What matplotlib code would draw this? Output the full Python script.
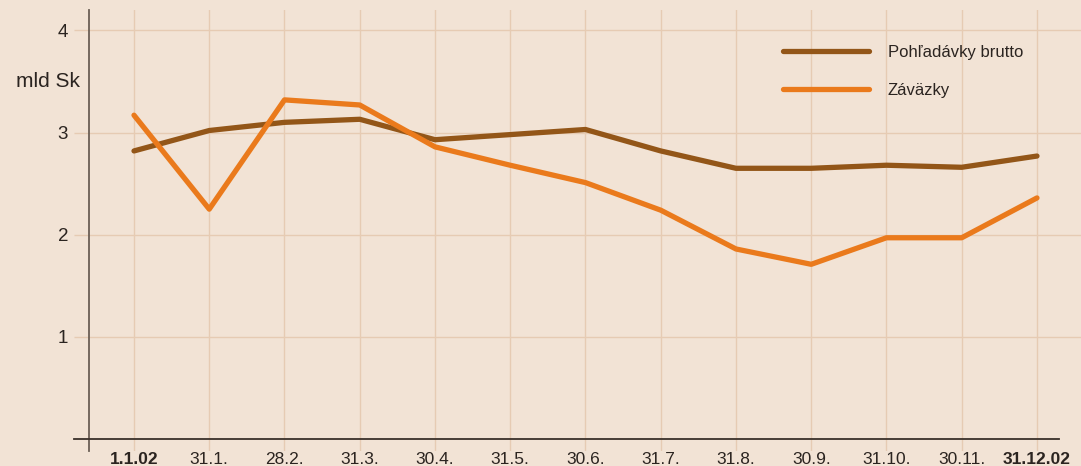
import matplotlib
matplotlib.use("Agg")
import matplotlib.pyplot as plt

# data (mld Sk)
dates = ["1.1.02", "31.1.", "28.2.", "31.3.", "30.4.", "31.5.", "30.6.",
         "31.7.", "31.8.", "30.9.", "31.10.", "30.11.", "31.12.02"]
pohladavky = [2.82, 3.02, 3.10, 3.13, 2.93, 2.98, 3.03, 2.82, 2.65, 2.65, 2.68, 2.66, 2.77]
zavazky = [3.17, 2.25, 3.32, 3.27, 2.86, 2.68, 2.51, 2.24, 1.86, 1.71, 1.97, 1.97, 2.36]
y_ticks = [1, 2, 3, 4]

bg = "#f2e3d5"
grid_c = "#e6cbb3"
brown = "#935618"
orange = "#ea7a1c"
text_c = "#2b2420"

plt.rcParams['font.family'] = ['Liberation Sans', 'DejaVu Sans']

fig = plt.figure(figsize=(10.81, 4.66), dpi=100, facecolor=bg)
# axes: left spine at x=89px, top at 10px, bottom at 451px
ax = fig.add_axes([89 / 1081, 15 / 466, 992 / 1081, 441 / 466], facecolor=bg)

x = list(range(len(dates)))
ax.plot(x, pohladavky, color=brown, lw=3.8, solid_capstyle='round',
        solid_joinstyle='round', label="Pohľadávky brutto", zorder=3)
ax.plot(x, zavazky, color=orange, lw=3.8, solid_capstyle='round',
        solid_joinstyle='round', label="Záväzky", zorder=4)

ax.set_xlim(-0.598, 12.585)
ax.set_ylim(-0.118, 4.2)

ax.set_xticks(x)
ax.set_xticklabels(dates)
for i, lab in enumerate(ax.get_xticklabels()):
    if i in (0, len(dates) - 1):
        lab.set_fontweight('bold')
ax.set_yticks(y_ticks)
ax.tick_params(axis='x', length=0, pad=0.5, labelsize=12.5, labelcolor=text_c)
ax.tick_params(axis='y', length=11, width=1, color=grid_c, pad=4,
               labelsize=13.5, labelcolor=text_c)

ax.grid(True, color=grid_c, lw=1)
ax.set_axisbelow(True)

for s in ["top", "right", "bottom"]:
    ax.spines[s].set_visible(False)
ax.spines["left"].set_color("#6b5f55")
ax.spines["left"].set_linewidth(1.3)

# baseline at zero, reaching left of the spine
ax.axhline(0, xmin=-0.015, xmax=0.978, color="#3a302a", lw=1.3, clip_on=False, zorder=5)

ax.text(-9 / 992, 3.5, "mld Sk", transform=ax.get_yaxis_transform(), ha='right', va='center',
        fontsize=15, color=text_c)

leg = ax.legend(loc='upper left', bbox_to_anchor=(679 / 992, 0.955), frameon=False,
                fontsize=12, handlelength=5.15, handletextpad=1.15, labelspacing=1.36,
                labelcolor=text_c)

fig.savefig("out.png", dpi=100, facecolor=bg)
